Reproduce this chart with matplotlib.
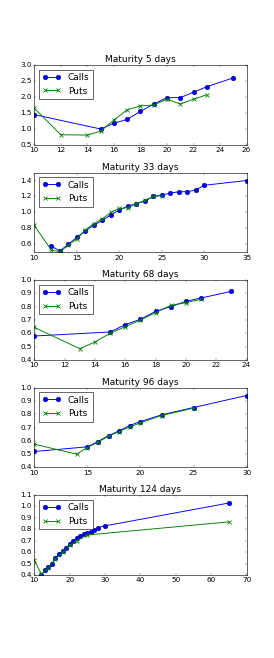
import matplotlib
matplotlib.use("Agg")
import matplotlib.pyplot as plt

plt.style.use("classic")
plt.rcParams["xtick.labelsize"] = 12.5
plt.rcParams["ytick.labelsize"] = 12.5

titles = ["Maturity 5 days", "Maturity 33 days", "Maturity 68 days", "Maturity 96 days", "Maturity 124 days"]

calls_x_5 = [10, 15, 16, 17, 18, 19, 20, 21, 22, 23, 25]
calls_y_5 = [1.45, 1.0, 1.18, 1.3, 1.55, 1.78, 1.98, 1.98, 2.15, 2.32, 2.6]
puts_x_5 = [10, 12, 14, 15, 16, 17, 18, 19, 20, 21, 22, 23]
puts_y_5 = [1.65, 0.82, 0.81, 0.93, 1.28, 1.6, 1.72, 1.75, 1.93, 1.78, 1.93, 2.07]

calls_x_33 = [12, 13, 14, 15, 16, 17, 18, 19, 20, 21, 22, 23, 24, 25, 26, 27, 28, 29, 30, 35]
calls_y_33 = [0.58, 0.52, 0.6, 0.69, 0.77, 0.84, 0.9, 0.97, 1.03, 1.08, 1.11, 1.14, 1.2, 1.22, 1.24, 1.26, 1.26, 1.28, 1.34, 1.4]
puts_x_33 = [10, 12, 13, 14, 15, 16, 17, 18, 19, 20, 21, 22, 23, 24, 25]
puts_y_33 = [0.84, 0.53, 0.51, 0.59, 0.67, 0.78, 0.86, 0.92, 1.0, 1.05, 1.06, 1.11, 1.15, 1.2, 1.21]

calls_x_68 = [10, 15, 16, 17, 18, 19, 20, 21, 23]
calls_y_68 = [0.58, 0.61, 0.665, 0.705, 0.765, 0.8, 0.84, 0.865, 0.915]
puts_x_68 = [10, 13, 14, 15, 16, 17, 18, 19, 20, 21]
puts_y_68 = [0.645, 0.485, 0.535, 0.6, 0.65, 0.7, 0.755, 0.81, 0.83, 0.855]

calls_x_96 = [10, 15, 16, 17, 18, 19, 20, 22, 25, 30]
calls_y_96 = [0.52, 0.555, 0.595, 0.64, 0.675, 0.715, 0.745, 0.795, 0.85, 0.94]
puts_x_96 = [10, 14, 15, 16, 17, 18, 19, 20, 22, 25]
puts_y_96 = [0.575, 0.5, 0.55, 0.59, 0.635, 0.67, 0.705, 0.735, 0.79, 0.845]

calls_x_124 = [12, 13, 14, 15, 16, 17, 18, 19, 20, 21, 22, 23, 24, 25, 26, 27, 28, 30, 65]
calls_y_124 = [0.4, 0.44, 0.47, 0.5, 0.55, 0.58, 0.61, 0.635, 0.67, 0.7, 0.72, 0.74, 0.755, 0.77, 0.78, 0.79, 0.815, 0.83, 1.03]
puts_x_124 = [10, 12, 14, 16, 18, 20, 22, 25, 65]
puts_y_124 = [0.53, 0.41, 0.46, 0.54, 0.6, 0.66, 0.7, 0.75, 0.865]

xlims = [(10, 26), (10, 35), (10, 24), (10, 30), (10, 70)]
ylims = [(0.5, 3.0), (0.5, 1.5), (0.4, 1.0), (0.4, 1.0), (0.4, 1.1)]

series = [
    (calls_x_5, calls_y_5, puts_x_5, puts_y_5),
    (calls_x_33, calls_y_33, puts_x_33, puts_y_33),
    (calls_x_68, calls_y_68, puts_x_68, puts_y_68),
    (calls_x_96, calls_y_96, puts_x_96, puts_y_96),
    (calls_x_124, calls_y_124, puts_x_124, puts_y_124),
]

fig, axes = plt.subplots(5, 1, figsize=(274 / 42, 658 / 42), dpi=42)
fig.subplots_adjust(left=0.125, right=0.9, top=1 - 65 / 658, bottom=1 - 575 / 658, hspace=0.344)

for ax, t, (cx, cy, px, py), xl, yl in zip(axes, titles, series, xlims, ylims):
    ax.plot(cx, cy, "bo-", label="Calls", lw=1.6, ms=8, mec="#000080", mew=0.8)
    ax.plot(px, py, "gx-", label="Puts", lw=1.6, ms=8, mew=1.4)
    ax.set_xlim(*xl)
    ax.set_ylim(*yl)
    ax.set_title(t, fontsize=15.5)
    ax.legend(loc="upper left", fontsize=15.5)

fig.savefig("out.png", dpi=42)
